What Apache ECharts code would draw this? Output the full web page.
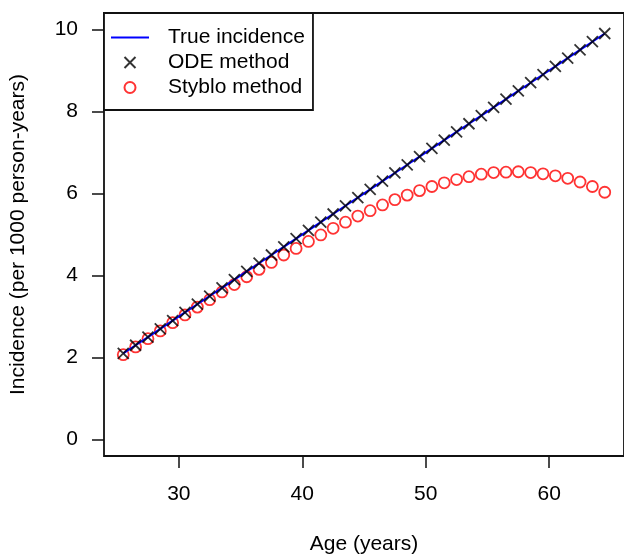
<!DOCTYPE html>
<html>
<head>
<meta charset="utf-8">
<script src="https://cdn.jsdelivr.net/npm/echarts@6/dist/echarts.min.js"></script>
<style>
  html, body { margin: 0; padding: 0; background: #fff; }
  #chart { width: 624px; height: 560px; }
</style>
</head>
<body>
<div id="chart"></div>
<script>
// ages (years), one point per year
var ages = [25.5, 26.5, 27.5, 28.5, 29.5, 30.5, 31.5, 32.5, 33.5, 34.5,
            35.5, 36.5, 37.5, 38.5, 39.5, 40.5, 41.5, 42.5, 43.5, 44.5,
            45.5, 46.5, 47.5, 48.5, 49.5, 50.5, 51.5, 52.5, 53.5, 54.5,
            55.5, 56.5, 57.5, 58.5, 59.5, 60.5, 61.5, 62.5, 63.5, 64.5];
// true incidence (per 1000 person-years)
var trueInc = [2.1, 2.3, 2.5, 2.7, 2.9, 3.1, 3.3, 3.5, 3.7, 3.9,
               4.1, 4.3, 4.5, 4.7, 4.9, 5.1, 5.3, 5.5, 5.7, 5.9,
               6.1, 6.3, 6.5, 6.7, 6.9, 7.1, 7.3, 7.5, 7.7, 7.9,
               8.1, 8.3, 8.5, 8.7, 8.9, 9.1, 9.3, 9.5, 9.7, 9.9];
// ODE method estimates
var odeInc = [2.1, 2.3, 2.5, 2.7, 2.9, 3.1, 3.3, 3.5, 3.7, 3.9,
              4.1, 4.3, 4.5, 4.7, 4.9, 5.1, 5.3, 5.5, 5.7, 5.9,
              6.1, 6.3, 6.5, 6.7, 6.9, 7.1, 7.3, 7.5, 7.7, 7.9,
              8.1, 8.3, 8.5, 8.7, 8.9, 9.1, 9.3, 9.5, 9.7, 9.9];
// Styblo method estimates
var styblo = [2.07, 2.26, 2.46, 2.65, 2.85, 3.04, 3.23, 3.41, 3.60, 3.78,
              3.97, 4.15, 4.32, 4.50, 4.66, 4.83, 4.99, 5.15, 5.30, 5.45,
              5.58, 5.72, 5.85, 5.96, 6.07, 6.17, 6.26, 6.34, 6.41, 6.47,
              6.51, 6.52, 6.53, 6.51, 6.48, 6.43, 6.37, 6.28, 6.17, 6.03];
var xTicks = [30, 40, 50, 60];
var yTicks = [0, 2, 4, 6, 8, 10];

function pairs(ys){
	var out = [];
	for(var i=0;i<ages.length;i++){
		out.push([ages[i], ys[i]]);
	}
	return out;
}

var FONT = '"Liberation Sans", Arial, sans-serif';
var myChart = echarts.init(document.getElementById('chart'), null, {renderer: 'canvas'});

var option = {
	animation: false,
	backgroundColor: '#fff',
	textStyle: { fontFamily: FONT },
	grid: {
		left: 104, top: 13, width: 524, height: 446,
		show: true, borderColor: '#111', borderWidth: 1.8,
		backgroundColor: 'transparent'
	},
	legend: {
		orient: 'vertical',
		left: 104, top: 13,
		backgroundColor: '#fff',
		borderColor: '#111', borderWidth: 1.8, borderRadius: 0,
		padding: [12, 8, 10, 6],
		itemWidth: 38, itemHeight: 11, itemGap: 0,
		textStyle: { fontFamily: FONT, fontSize: 21, color: '#000', lineHeight: 25, padding: [0, 0, 0, 14] },
		data: [
			{ name: 'True incidence', itemStyle: { opacity: 0 } },
			'ODE method',
			'Styblo method'
		]
	},
	xAxis: {
		type: 'value', min: 23.94, max: 66.06,
		name: 'Age (years)', nameLocation: 'middle', nameGap: 78,
		nameTextStyle: { fontFamily: FONT, fontSize: 21, color: '#000' },
		axisLine: { show: false, onZero: false },
		axisTick: { show: true, length: 12, customValues: xTicks, lineStyle: { color: '#111', width: 1.5 } },
		axisLabel: { customValues: xTicks, fontFamily: FONT, fontSize: 21, color: '#000', margin: 28 },
		splitLine: { show: false }
	},
	yAxis: {
		type: 'value', min: -0.4, max: 10.4,
		name: 'Incidence (per 1000 person-years)', nameLocation: 'middle', nameGap: 75,
		nameTextStyle: { fontFamily: FONT, fontSize: 21, color: '#000' },
		axisLine: { show: false, onZero: false },
		axisTick: { show: true, length: 12, customValues: yTicks, lineStyle: { color: '#111', width: 1.5 } },
		axisLabel: { customValues: yTicks, fontFamily: FONT, fontSize: 21, color: '#000', margin: 26 },
		splitLine: { show: false }
	},
	series: [
		{
			name: 'Styblo method', type: 'scatter', z: 2,
			symbol: 'circle', symbolSize: 11,
			itemStyle: { color: 'rgba(0,0,0,0)', borderColor: '#ff0000', borderWidth: 1.8 },
			data: pairs(styblo)
		},
		{
			name: 'True incidence', type: 'line', z: 3,
			symbol: 'none', lineStyle: { color: '#0000ff', width: 2 },
			itemStyle: { color: '#0000ff' },
			data: pairs(trueInc)
		},
		{
			name: 'ODE method', type: 'scatter', z: 4,
			symbol: 'path://M0,0L10,10M10,0L0,10', symbolSize: 11,
			itemStyle: { color: 'rgba(0,0,0,0)', borderColor: '#000', borderWidth: 1.8 },
			data: pairs(odeInc)
		}
	]
};
myChart.setOption(option, true);
</script>
</body>
</html>
